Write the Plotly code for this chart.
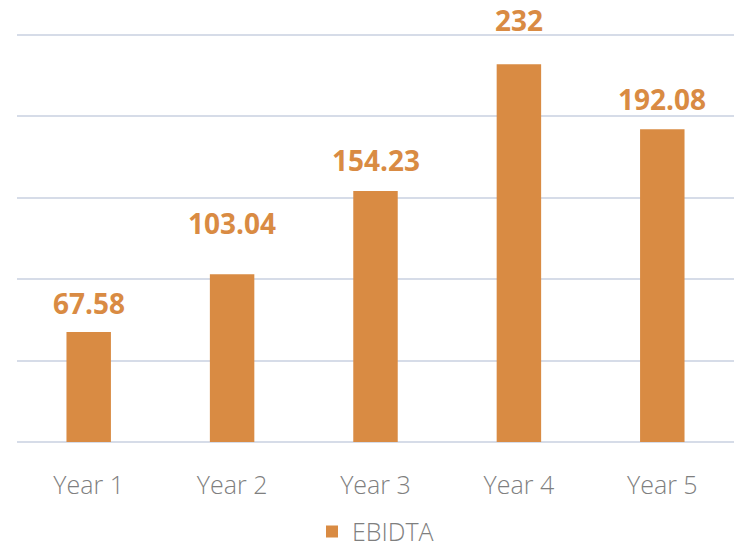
import plotly.graph_objects as go

categories = ["Year 1", "Year 2", "Year 3", "Year 4", "Year 5"]
ebidta = [67.58, 103.04, 154.23, 232, 192.08]
labels = ["67.58", "103.04", "154.23", "232", "192.08"]
series_name = "EBIDTA"

# style: vertical offset (px) of each data label above its bar
label_shift = [8, 30, 10, 23, 9]

bar_color = "#D98B43"
grid_color = "#D6DCE8"
text_gray = "#7F7F7F"

fig = go.Figure()
fig.add_trace(go.Bar(
    x=categories, y=ebidta, name=series_name,
    marker=dict(color=bar_color, line=dict(width=0)),
    width=0.31, showlegend=True,
))

for c, v, t, s in zip(categories, ebidta, labels, label_shift):
    fig.add_annotation(x=c, y=v, text=t, showarrow=False, yanchor="bottom",
                       yshift=s, font=dict(family="Open Sans", size=28,
                                           color=bar_color, weight="bold"))

fig.update_layout(
    width=734, height=549,
    margin=dict(l=17, r=0, t=30, b=107, autoexpand=False),
    paper_bgcolor="white", plot_bgcolor="white",
    font=dict(family="Open Sans", color=text_gray),
    xaxis=dict(showgrid=False, showline=False, ticks="", automargin=False,
               tickfont=dict(size=25, color=text_gray, weight=300),
               ticklabelstandoff=26),
    yaxis=dict(range=[0, 253.07], tickvals=[0, 50, 100, 150, 200, 250],
               showgrid=True, gridcolor=grid_color,
               gridwidth=2, showticklabels=False, zeroline=True, automargin=False,
               zerolinecolor=grid_color, zerolinewidth=2, showline=False),
    legend=dict(orientation="h", x=0.5, xanchor="center", y=-0.218,
                yanchor="middle", font=dict(size=25, color=text_gray, weight=300),
                itemwidth=30),
)

fig.write_html("out.html", config={"displayModeBar": False},
               post_script="document.body.style.margin='0';")
